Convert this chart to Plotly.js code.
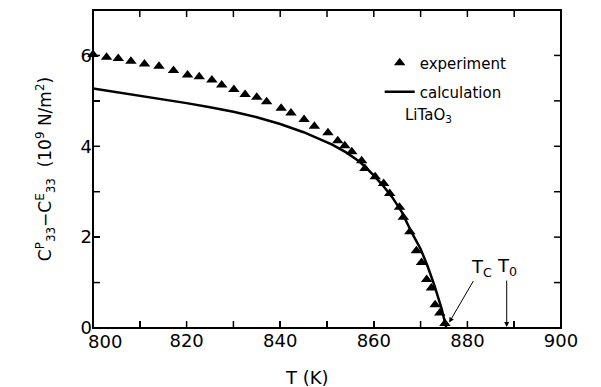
<!DOCTYPE html>
<html>
<head>
<meta charset="utf-8">
<script src="https://cdn.plot.ly/plotly-3.0.1.min.js"></script>
<style>html,body{margin:0;padding:0;background:#fff;}#chart{width:601px;height:387px;}</style>
</head>
<body>
<div id="chart"></div>
<script>
// Experimental points (T in K, C33P - C33E in 1e9 N/m^2)
const expT = [800, 802.9, 805.4, 808.1, 811, 814.1, 817.2, 820.2, 822.7, 825.4, 827.5, 830.1, 832.5, 835, 837.1, 840.2, 842.3, 845.1, 847.3, 850.2, 852.3, 853.8, 855.3, 857.4, 858.1, 860.3, 862.1, 863.4, 865.5, 866.3, 867.7, 869.1, 870.2, 871.3, 872.3, 873.1, 874.1, 875.2];
const expV = [6.02, 5.96, 5.93, 5.87, 5.81, 5.76, 5.67, 5.57, 5.53, 5.46, 5.35, 5.25, 5.14, 5.08, 4.98, 4.84, 4.73, 4.59, 4.44, 4.30, 4.12, 4.01, 3.88, 3.68, 3.51, 3.33, 3.18, 2.96, 2.66, 2.44, 2.12, 1.70, 1.44, 1.07, 0.88, 0.51, 0.33, 0.10];

// Calculated curve
const calcT = [800, 805, 810, 815, 820, 825, 830, 835, 840, 845, 848, 851, 854, 857, 860, 862, 864, 866, 868, 870, 871.5, 873, 874.5, 875.5];
const calcV = [5.27, 5.19, 5.12, 5.04, 4.95, 4.86, 4.76, 4.64, 4.49, 4.31, 4.18, 4.04, 3.87, 3.66, 3.36, 3.13, 2.87, 2.55, 2.12, 1.74, 1.36, 0.92, 0.42, 0.0];

const Tc = 875.5, T0 = 888.4;
const xTickVals = [800, 810, 820, 830, 840, 850, 860, 870, 880, 890, 900];
// the first label (800) is set slightly to the right of its tick in the original, so it is drawn separately
const xTickText = ['', '', '820', '', '840', '', '860', '', '880', '', '900'];
const xFirstLabel = '800';
const yTickVals = [0, 1, 2, 3, 4, 5, 6, 7];
const yTickText = ['0', '', '2', '', '4', '', '6', ''];

const FONT = "DejaVu Sans, Arial, sans-serif";
const TICKLEN = 7;

const traces = [
  {x: expT, y: expV, type: 'scatter', mode: 'markers', name: 'experiment',
   marker: {symbol: 'triangle-up', size: 10, color: '#000'}, legend: 'legend', cliponaxis: false},
  {x: calcT, y: calcV, type: 'scatter', mode: 'lines', name: 'calculation',
   line: {color: '#000', width: 2.5}, legend: 'legend2'}
];

const xaxis = {
  showline: false, ticks: 'inside', ticklen: TICKLEN, tickwidth: 1.5, tickcolor: '#000',
  showgrid: false, zeroline: false,
  tickfont: {family: FONT, size: 18, color: '#000'},
  range: [800, 900], tickmode: 'array', tickvals: xTickVals, ticktext: xTickText
};
const yaxis = {
  showline: false, ticks: 'inside', ticklen: TICKLEN, tickwidth: 1.5, tickcolor: '#000',
  showgrid: false, zeroline: false,
  tickfont: {family: FONT, size: 18, color: '#000'},
  range: [0, 7], tickmode: 'array', tickvals: yTickVals, ticktext: yTickText,
  title: {text: 'C<sup>P</sup><sub>33</sub>\u2212C<sup>E</sup><sub>33</sub>  (10<sup>9</sup> N/m<sup>2</sup>)',
          font: {family: FONT, size: 17, color: '#000'}, standoff: 24}
};

// Frame and tick marks (tick marks on all four sides, pointing inward)
const tickLine = {color: '#000', width: 1.5};
const shapes = [
  {type: 'rect', xref: 'paper', yref: 'paper', x0: 0, x1: 1, y0: 0, y1: 1,
   line: {color: '#000', width: 2}, fillcolor: 'rgba(0,0,0,0)', layer: 'above'}
];
xTickVals.forEach(v => {
  shapes.push({type: 'line', xref: 'x', yref: 'paper', x0: v, x1: v, ysizemode: 'pixel', yanchor: 0,
               y0: 0, y1: TICKLEN, line: tickLine, layer: 'above'});
  shapes.push({type: 'line', xref: 'x', yref: 'paper', x0: v, x1: v, ysizemode: 'pixel', yanchor: 1,
               y0: 0, y1: -TICKLEN, line: tickLine, layer: 'above'});
});
yTickVals.forEach(v => {
  shapes.push({type: 'line', xref: 'paper', yref: 'y', y0: v, y1: v, xsizemode: 'pixel', xanchor: 0,
               x0: 0, x1: TICKLEN, line: tickLine, layer: 'above'});
  shapes.push({type: 'line', xref: 'paper', yref: 'y', y0: v, y1: v, xsizemode: 'pixel', xanchor: 1,
               x0: 0, x1: -TICKLEN, line: tickLine, layer: 'above'});
});

const layout = {
  width: 601, height: 387,
  margin: {l: 93, r: 40, t: 10, b: 59},
  paper_bgcolor: '#fff', plot_bgcolor: '#fff',
  font: {family: FONT, color: '#000'},
  showlegend: true,
  xaxis: xaxis,
  yaxis: yaxis,
  legend: {x: 0.6126, y: 0.8333, xanchor: 'left', yanchor: 'middle', bgcolor: 'rgba(0,0,0,0)',
           font: {family: FONT, size: 15, color: '#000'}},
  legend2: {x: 0.6126, y: 0.742, xanchor: 'left', yanchor: 'middle', bgcolor: 'rgba(0,0,0,0)',
           font: {family: FONT, size: 15, color: '#000'}},
  shapes: shapes,
  annotations: [
    {x: xTickVals[0], xref: 'x', yref: 'paper', y: -0.0425, xshift: 12, text: xFirstLabel,
     showarrow: false, xanchor: 'center', yanchor: 'middle', font: {family: FONT, size: 18, color: '#000'}},
    {xref: 'paper', yref: 'paper', x: (307 - 93) / 468, y: -0.157, text: 'T (K)', showarrow: false,
     xanchor: 'center', yanchor: 'middle', font: {family: FONT, size: 18, color: '#000'}},
    {x: 866.2, y: 4.67, xref: 'x', yref: 'y', text: 'LiTaO<sub>3</sub>', showarrow: false,
     xanchor: 'left', yanchor: 'middle', font: {family: FONT, size: 15, color: '#000'}},
    {x: Tc + 0.6, y: 0.12, xref: 'x', yref: 'y', text: 'T<sub>C</sub>', showarrow: true,
     ax: 32, ay: -55, arrowhead: 2, arrowsize: 1, arrowwidth: 1, arrowcolor: '#000',
     font: {family: FONT, size: 18, color: '#000'}},
    {x: T0, y: 0.02, xref: 'x', yref: 'y', text: 'T<sub>0</sub>', showarrow: true,
     ax: 0, ay: -60, arrowhead: 2, arrowsize: 1, arrowwidth: 1, arrowcolor: '#000',
     font: {family: FONT, size: 18, color: '#000'}}
  ]
};

Plotly.newPlot('chart', traces, layout, {staticPlot: true, displayModeBar: false});
</script>
</body>
</html>
